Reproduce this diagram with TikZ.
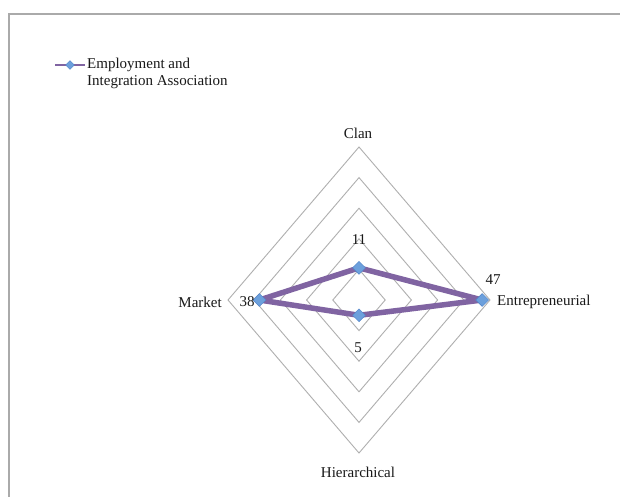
\documentclass[tikz,border=0pt]{standalone}
\usepackage{fontspec}
\setmainfont{Liberation Serif}
\usetikzlibrary{shapes.geometric}
\definecolor{gridgray}{RGB}{175,175,175}
\definecolor{framegray}{RGB}{170,170,170}
\definecolor{seriespurple}{RGB}{128,100,162}
\definecolor{markerblue}{RGB}{108,160,220}
\definecolor{markeredge}{RGB}{80,130,200}
\definecolor{labeltext}{RGB}{25,25,25}
\begin{document}
\begin{tikzpicture}[x=1pt,y=-1pt,
  ring/.style={draw=gridgray,line width=0.9pt},
  series/.style={draw=seriespurple,line width=5.5pt,line join=round},
  marker/.style={diamond,fill=markerblue,draw=markeredge,line width=0.4pt,
    inner sep=0pt,minimum width=13pt,minimum height=13pt},
  lbl/.style={font=\fontsize{15}{17}\selectfont,text=labeltext,inner sep=0pt},
  val/.style={font=\fontsize{15}{17}\selectfont,text=labeltext,inner sep=0pt}]
\useasboundingbox (0,0) rectangle (620,497);
\fill[white] (0,0) rectangle (620,497);
% chart frame (runs off the page to the right and bottom)
\draw[framegray,line width=2pt] (9,500) -- (9,14) -- (623,14);

% radar grid: five rings, step 10 on a 0--50 axis
\foreach \k in {1,...,5}{
  \draw[ring] (359,{300-30.6*\k}) -- ({359+26.2*\k},300) -- (359,{300+30.6*\k})
    -- ({359-26.2*\k},300) -- cycle;
}

% axis labels
\node[lbl] (clan) at (358,133) {Clan};
\node[lbl,anchor=west] (entre) at (497,302) {Entrepreneurial};
\node[lbl] (hier) at (358,472) {Hierarchical};
\node[lbl,anchor=east] (market) at (222,302) {Market};

% data points: Clan 11, Entrepreneurial 47, Hierarchical 5, Market 38
\coordinate (pc) at (359,{300-30.6*1.05});
\coordinate (pe) at ({359+26.2*4.7},300);
\coordinate (ph) at (359,{300+30.6*0.5});
\coordinate (pm) at ({359-26.2*3.8},300);
\draw[series] (pc) -- (pe) -- (ph) -- (pm) -- cycle;
\foreach \p in {pc,pe,ph,pm}{ \node[marker] at (\p) {}; }

% value labels
\node[val] (vc) at (359,240) {11};
\node[val] (ve) at (493,280) {47};
\node[val] (vh) at (358,348) {5};
\node[val] (vm) at (247,302) {38};

% legend
\coordinate (la) at (55,65);
\coordinate (lb) at (85,65);
\draw[seriespurple,line width=2pt] (la) -- (lb);
\node[marker,minimum width=9pt,minimum height=9pt] (lm) at (70,65) {};
\node[lbl,anchor=west,align=left] (legend) at (87,73.5)
  {Employment and\\Integration Association};
\end{tikzpicture}
\end{document}
